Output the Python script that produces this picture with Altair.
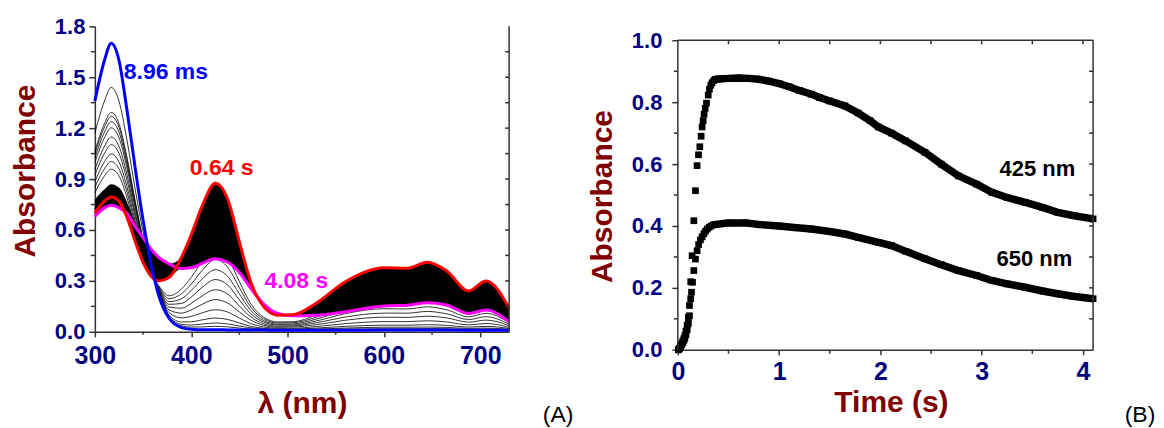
import altair as alt
import pandas as pd

# ---------------- Panel (A): spectra ----------------
WL = [300, 310, 317, 325, 333, 342, 350, 358, 366, 377, 390, 400, 412, 425, 438,
      450, 462, 475, 490, 505, 530, 560, 600, 625, 645, 665, 688, 706, 730]

BLUE_896MS = [1.36, 1.60, 1.70, 1.60, 1.32, 0.96, 0.66, 0.41, 0.22, 0.08, 0.025, 0.015, 0.012, 0.012, 0.011,
              0.010, 0.010, 0.010, 0.009, 0.009, 0.009, 0.009, 0.010, 0.010, 0.010, 0.010, 0.009, 0.009, 0.009]
RED_064S = [0.70, 0.77, 0.795, 0.77, 0.68, 0.53, 0.41, 0.33, 0.30, 0.32, 0.44, 0.57, 0.75, 0.875, 0.78,
            0.53, 0.29, 0.15, 0.098, 0.10, 0.17, 0.295, 0.377, 0.375, 0.41, 0.36, 0.24, 0.30, 0.14]
MAGENTA_408S = [0.68, 0.73, 0.745, 0.73, 0.70, 0.62, 0.555, 0.49, 0.44, 0.40, 0.373, 0.377, 0.405, 0.43, 0.41,
                0.35, 0.255, 0.165, 0.108, 0.094, 0.098, 0.118, 0.152, 0.157, 0.171, 0.158, 0.108, 0.128, 0.06]

K1 = [1.17, 1.36, 1.44, 1.36, 1.14, 0.835, 0.59, 0.387, 0.233, 0.086, 0.035, 0.028, 0.029, 0.032, 0.029,
      0.022, 0.016, 0.013, 0.011, 0.011, 0.013, 0.016, 0.018, 0.018, 0.019, 0.018, 0.014, 0.016, 0.012]
K2 = [1.063, 1.227, 1.293, 1.227, 1.038, 0.767, 0.548, 0.374, 0.24, 0.091, 0.044, 0.04, 0.046, 0.052, 0.046,
      0.034, 0.023, 0.016, 0.013, 0.013, 0.016, 0.022, 0.027, 0.027, 0.028, 0.026, 0.02, 0.022, 0.015]
K3 = [1.047, 1.206, 1.27, 1.206, 1.021, 0.756, 0.541, 0.372, 0.242, 0.099, 0.058, 0.059, 0.071, 0.081, 0.0725,
      0.052, 0.032, 0.021, 0.016, 0.016, 0.022, 0.032, 0.039, 0.039, 0.042, 0.038, 0.028, 0.032, 0.02]
K4 = [1.023, 1.177, 1.238, 1.177, 0.998, 0.741, 0.533, 0.369, 0.246, 0.113, 0.082, 0.091, 0.113, 0.13, 0.116,
      0.081, 0.048, 0.029, 0.021, 0.021, 0.031, 0.048, 0.06, 0.06, 0.065, 0.058, 0.041, 0.049, 0.027]
K5 = [0.997, 1.144, 1.202, 1.144, 0.973, 0.724, 0.523, 0.366, 0.25, 0.129, 0.11, 0.129, 0.164, 0.19, 0.169,
      0.117, 0.068, 0.039, 0.027, 0.028, 0.042, 0.068, 0.086, 0.085, 0.092, 0.082, 0.057, 0.069, 0.036]
K6 = [0.957, 1.094, 1.148, 1.094, 0.934, 0.698, 0.508, 0.361, 0.255, 0.146, 0.139, 0.167, 0.214, 0.248, 0.222,
      0.152, 0.087, 0.048, 0.033, 0.034, 0.053, 0.087, 0.11, 0.11, 0.12, 0.106, 0.072, 0.089, 0.045]
K7 = [0.924, 1.052, 1.103, 1.052, 0.901, 0.676, 0.495, 0.357, 0.26, 0.162, 0.167, 0.205, 0.265, 0.308, 0.275,
      0.188, 0.106, 0.058, 0.04, 0.04, 0.064, 0.107, 0.136, 0.135, 0.147, 0.13, 0.088, 0.109, 0.054]
K8 = [0.885, 1.002, 1.048, 1.002, 0.862, 0.65, 0.48, 0.352, 0.265, 0.178, 0.195, 0.243, 0.315, 0.366, 0.326,
      0.223, 0.125, 0.067, 0.045, 0.046, 0.075, 0.126, 0.16, 0.16, 0.174, 0.153, 0.104, 0.128, 0.063]
K9 = [0.852, 0.961, 1.003, 0.961, 0.83, 0.629, 0.468, 0.348, 0.27, 0.195, 0.225, 0.281, 0.366, 0.426, 0.38,
      0.26, 0.144, 0.077, 0.052, 0.053, 0.086, 0.146, 0.186, 0.185, 0.202, 0.178, 0.12, 0.149, 0.072]
K10 = [0.819, 0.919, 0.958, 0.919, 0.797, 0.607, 0.455, 0.344, 0.274, 0.212, 0.253, 0.32, 0.418, 0.487, 0.434,
       0.296, 0.164, 0.087, 0.058, 0.059, 0.098, 0.166, 0.212, 0.211, 0.23, 0.203, 0.136, 0.169, 0.081]

# envelope of the densely packed spectra (drawn solid black)
FILL_LO = [0.68, 0.73, 0.745, 0.73, 0.68, 0.53, 0.41, 0.33, 0.30, 0.32, 0.373, 0.377, 0.405, 0.43, 0.41,
           0.35, 0.255, 0.15, 0.098, 0.094, 0.098, 0.118, 0.152, 0.157, 0.171, 0.158, 0.108, 0.128, 0.06]
FILL_HI = [0.78, 0.84, 0.87, 0.85, 0.77, 0.64, 0.555, 0.49, 0.44, 0.40, 0.44, 0.57, 0.75, 0.875, 0.78,
           0.53, 0.29, 0.165, 0.108, 0.10, 0.17, 0.295, 0.377, 0.375, 0.41, 0.36, 0.24, 0.30, 0.14]

A_LABELS = ["8.96 ms", "0.64 s", "4.08 s"]
A_LABEL_NM = [330, 398.5, 476]
A_LABEL_A = [1.488, 0.924, 0.259]
A_LABEL_COLORS = ["#0000FF", "#FF0000", "#FF00FF"]

A_YTICKS = [0.0, 0.3, 0.6, 0.9, 1.2, 1.5, 1.8]
A_YMINOR = [0.15, 0.45, 0.75, 1.05, 1.35, 1.65]
A_XTICKS = [300, 400, 500, 600, 700]
A_XMINOR = [350, 450, 550, 650]

# ---------------- Panel (B): kinetic traces ----------------
T425_RISE = [0.005, 0.015, 0.026, 0.037, 0.049, 0.06, 0.069, 0.08, 0.092, 0.104, 0.115, 0.127, 0.141, 0.158,
             0.174, 0.19, 0.204, 0.217, 0.23, 0.24, 0.25, 0.259, 0.27, 0.283, 0.3, 0.312, 0.325, 0.338, 0.355]
A425_RISE = [0.0, 0.005, 0.012, 0.019, 0.028, 0.036, 0.045, 0.06, 0.079, 0.105, 0.143, 0.22, 0.304, 0.417,
             0.514, 0.595, 0.63, 0.656, 0.69, 0.72, 0.74, 0.761, 0.78, 0.797, 0.823, 0.842, 0.855, 0.863, 0.87]
T425 = [0.37, 0.4, 0.5, 0.6, 0.7, 0.8, 0.9, 1.0, 1.1, 1.2, 1.32, 1.4, 1.5, 1.65, 1.78, 1.9, 1.98, 2.11,
        2.25, 2.44, 2.6, 2.77, 2.95, 3.1, 3.25, 3.43, 3.6, 3.75, 3.9, 4.1]
A425 = [0.874, 0.875, 0.877, 0.878, 0.877, 0.874, 0.868, 0.86, 0.85, 0.838, 0.826, 0.815, 0.804, 0.788,
        0.765, 0.74, 0.72, 0.70, 0.675, 0.638, 0.60, 0.562, 0.535, 0.509, 0.492, 0.476, 0.46, 0.444, 0.434, 0.423]

T650_RISE = [0.005, 0.015, 0.026, 0.037, 0.049, 0.06, 0.069, 0.08, 0.092, 0.104, 0.115, 0.127, 0.135, 0.145,
             0.158, 0.174, 0.19, 0.205, 0.223, 0.24, 0.257, 0.273, 0.29, 0.31, 0.33, 0.35]
A650_RISE = [0.0, 0.004, 0.01, 0.016, 0.022, 0.03, 0.037, 0.048, 0.065, 0.085, 0.11, 0.165, 0.186, 0.218,
             0.256, 0.293, 0.32, 0.34, 0.355, 0.365, 0.375, 0.383, 0.39, 0.396, 0.4, 0.404]
T650 = [0.37, 0.5, 0.67, 0.8, 1.0, 1.15, 1.32, 1.5, 1.65, 1.78, 1.98, 2.11, 2.25, 2.44, 2.6, 2.77, 2.95,
        3.1, 3.25, 3.43, 3.6, 3.75, 3.9, 4.1]
A650 = [0.405, 0.41, 0.41, 0.405, 0.40, 0.395, 0.39, 0.382, 0.374, 0.363, 0.347, 0.337, 0.318, 0.294, 0.275,
        0.256, 0.24, 0.224, 0.213, 0.202, 0.19, 0.181, 0.173, 0.165]

B_LABELS = ["425 nm", "650 nm"]
B_LABEL_T = [3.55, 3.52]
B_LABEL_A = [0.561, 0.27]

B_YTICKS = [0.0, 0.2, 0.4, 0.6, 0.8, 1.0]
B_YMINOR = [0.1, 0.3, 0.5, 0.7, 0.9]
B_RIGHT = [0.1, 0.2, 0.3, 0.4, 0.5, 0.6, 0.7, 0.8, 0.9]
B_XTICKS = [0, 1, 2, 3, 4]
B_XMINOR = [0.5, 1.5, 2.5, 3.5]
B_TOP = [0.5, 1.0, 1.5, 2.0, 2.5, 3.0, 3.5, 4.0]

# ---------------- styling ----------------
FONT = "Liberation Sans"
NAVY = "#000080"
MAROON = "#800000"
AXC = "#333333"

WA, HA = 415, 306          # panel A plot area
WB, HB = 416, 324          # panel B plot area (top 14 px empty, y=1.0 at 14px)
B_YMAX = 1.0 * HB / 310.0

one = pd.DataFrame({"k": [0]})


def axis(**kw):
    base = dict(grid=False, labelFont=FONT, labelFontWeight="bold", labelColor=NAVY,
                labelOverlap=False, labelFlush=False, tickColor=AXC, tickWidth=1.5,
                domainColor=AXC, domainWidth=1.5, titleFont=FONT, titleFontWeight="bold",
                titleColor=MAROON, titleFontSize=30, titleBaseline="alphabetic")
    base.update(kw)
    return alt.Axis(**base)


# ---- panel A ----
rows = []
for name, ys in zip(["k1", "k2", "k3", "k4", "k5", "k6", "k7", "k8", "k9", "k10"],
                    [K1, K2, K3, K4, K5, K6, K7, K8, K9, K10]):
    for x, y in zip(WL, ys):
        rows.append({"nm": x, "A": y, "curve": name})
black_df = pd.DataFrame(rows)

xA = alt.X("nm:Q", scale=alt.Scale(domain=[300, 730], nice=False, zero=False),
           axis=axis(values=A_XTICKS, format="d", labelFontSize=25, tickSize=5, labelPadding=7,
                     title="λ (nm)", titleX=207.5, titleY=81))
yA = alt.Y("A:Q", scale=alt.Scale(domain=[0, 1.8], nice=False, zero=False),
           axis=axis(values=A_YTICKS, format=".1f", labelFontSize=22, tickSize=6, labelPadding=4,
                     title="Absorbance", titleX=-60, titleY=144.5))

a_black = alt.Chart(black_df).mark_line(color="black", strokeWidth=0.8, interpolate="monotone").encode(
    x=xA, y=yA, detail="curve:N")
a_fill = alt.Chart(pd.DataFrame({"nm": WL, "lo": FILL_LO, "hi": FILL_HI})).mark_area(
    color="black", interpolate="monotone").encode(x="nm:Q", y="lo:Q", y2="hi:Q")


def spec_line(vals, color):
    return alt.Chart(pd.DataFrame({"nm": WL, "A": vals})).mark_line(
        color=color, strokeWidth=3, interpolate="monotone").encode(x="nm:Q", y="A:Q")


a_mag = spec_line(MAGENTA_408S, "#FF00FF")
a_red = spec_line(RED_064S, "#FF0000")
a_blue = spec_line(BLUE_896MS, "#0000FF")

a_text = alt.Chart(pd.DataFrame({"nm": A_LABEL_NM, "A": A_LABEL_A, "t": A_LABELS, "c": A_LABEL_COLORS})).mark_text(
    font=FONT, fontSize=23, fontWeight="bold", align="left", baseline="alphabetic").encode(
    x="nm:Q", y="A:Q", text="t:N", color=alt.Color("c:N", scale=None))

a_yminor = alt.Chart(pd.DataFrame({"A": A_YMINOR})).mark_rule(color=AXC, strokeWidth=1.5).encode(
    y="A:Q", x=alt.value(-4), x2=alt.value(0))
a_xminor = alt.Chart(pd.DataFrame({"nm": A_XMINOR})).mark_rule(color=AXC, strokeWidth=1.5).encode(
    x="nm:Q", y=alt.value(HA), y2=alt.value(HA + 3))
a_rborder = alt.Chart(one).mark_rule(color=AXC, strokeWidth=1.5).encode(
    x=alt.value(WA), y=alt.value(0), y2=alt.value(HA))
a_rticks = alt.Chart(pd.DataFrame({"A": A_YMINOR + A_YTICKS[1:-1]})).mark_rule(color=AXC, strokeWidth=1.5).encode(
    y="A:Q", x=alt.value(WA - 4), x2=alt.value(WA))
a_tag = alt.Chart(one).mark_text(text="(A)", font=FONT, fontSize=23, align="center",
                                 baseline="alphabetic", color="black").encode(
    x=alt.value(464), y=alt.value(396))

panelA = alt.layer(a_black, a_fill, a_mag, a_red, a_blue, a_text, a_yminor, a_xminor,
                   a_rborder, a_rticks, a_tag).properties(width=WA, height=HA)

# ---- panel B ----
xB = alt.X("t:Q", scale=alt.Scale(domain=[0, 4.1], nice=False, zero=False),
           axis=axis(values=B_XTICKS, format="d", labelFontSize=25, tickSize=5, labelPadding=5,
                     title="Time (s)", titleX=213.5, titleY=62))
yB = alt.Y("A:Q", scale=alt.Scale(domain=[0, B_YMAX], nice=False, zero=False),
           axis=axis(values=B_YTICKS, format=".1f", labelFontSize=22, tickSize=6, labelPadding=10,
                     domain=False, title="Absorbance", titleX=-66, titleY=170))

rise_df = pd.DataFrame({"t": T425_RISE + T650_RISE, "A": A425_RISE + A650_RISE})
d425 = pd.DataFrame({"t": T425, "A": A425, "s": "425"})
d650 = pd.DataFrame({"t": T650, "A": A650, "s": "650"})
dense_df = pd.concat([d425, d650], ignore_index=True)

b_rise = alt.Chart(rise_df).mark_square(size=45, color="black", opacity=1).encode(x=xB, y=yB)
b_line = alt.Chart(dense_df).mark_line(color="black", strokeWidth=7.5).encode(x="t:Q", y="A:Q", detail="s:N")
b_pts = alt.Chart(dense_df).mark_square(size=45, color="black", opacity=1).encode(x="t:Q", y="A:Q")
b_text = alt.Chart(pd.DataFrame({"t": B_LABEL_T, "A": B_LABEL_A, "l": B_LABELS})).mark_text(
    font=FONT, fontSize=22, fontWeight="bold", align="center", baseline="alphabetic", color="black").encode(
    x="t:Q", y="A:Q", text="l:N")

b_laxis = alt.Chart(one).mark_rule(color=AXC, strokeWidth=1.5).encode(
    x=alt.value(0), y=alt.value(HB - 310), y2=alt.value(HB))
b_top = alt.Chart(one).mark_rule(color=AXC, strokeWidth=1.5).encode(
    y=alt.value(HB - 310), x=alt.value(0), x2=alt.value(WB))
b_right = alt.Chart(one).mark_rule(color=AXC, strokeWidth=1.5).encode(
    x=alt.value(WB), y=alt.value(HB - 310), y2=alt.value(HB))
b_yminor = alt.Chart(pd.DataFrame({"A": B_YMINOR})).mark_rule(color=AXC, strokeWidth=1.5).encode(
    y="A:Q", x=alt.value(-4), x2=alt.value(0))
b_xminor = alt.Chart(pd.DataFrame({"t": B_XMINOR})).mark_rule(color=AXC, strokeWidth=1.5).encode(
    x="t:Q", y=alt.value(HB), y2=alt.value(HB + 4))
b_rticks = alt.Chart(pd.DataFrame({"A": B_RIGHT})).mark_rule(color=AXC, strokeWidth=1.5).encode(
    y="A:Q", x=alt.value(WB - 4), x2=alt.value(WB))
b_tticks = alt.Chart(pd.DataFrame({"t": B_TOP})).mark_rule(color=AXC, strokeWidth=1.5).encode(
    x="t:Q", y=alt.value(HB - 310), y2=alt.value(HB - 306))
b_tag = alt.Chart(one).mark_text(text="(B)", font=FONT, fontSize=23, align="center",
                                 baseline="alphabetic", color="black").encode(
    x=alt.value(463), y=alt.value(396))

panelB = alt.layer(b_rise, b_line, b_pts, b_text, b_laxis, b_top, b_right, b_yminor, b_xminor,
                   b_rticks, b_tticks, b_tag).properties(width=WB, height=HB)

chart = alt.hconcat(panelA, panelB, spacing=169, bounds="flush").properties(
    padding={"left": 2, "top": 7, "right": 0, "bottom": 0}
).configure_view(stroke=None)

chart.save("out.html", embed_options={"renderer": "svg", "actions": False})
